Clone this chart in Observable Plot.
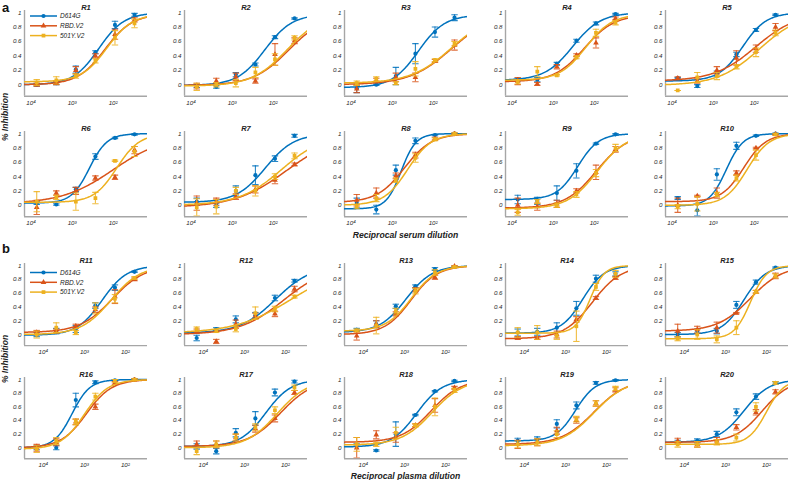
<!DOCTYPE html>
<html><head><meta charset="utf-8">
<script src="https://cdn.jsdelivr.net/npm/d3@7"></script>
<script src="https://cdn.jsdelivr.net/npm/@observablehq/plot@0.6"></script>
<style>
body{margin:0;background:#fff;}
#chart{position:relative;width:789px;height:480px;overflow:hidden;background:#fff;font-family:"Liberation Sans",Arial,sans-serif;}
#chart svg.sub{position:absolute;overflow:visible;}
#overlay{position:absolute;left:0;top:0;pointer-events:none;}
</style></head><body><div id="chart"></div>
<script>
// ---------------- data ----------------
const subjects = ["R1","R2","R3","R4","R5","R6","R7","R8","R9","R10","R11","R12","R13","R14","R15","R16","R17","R18","R19","R20"];
const variants = ["D614G","RBD.V2","501Y.V2"];
const colors = ["#0072BD","#D95319","#EDB120"];
const symbols = ["circle","triangle","square"];
const dilSerum = [7290, 2430, 810, 270, 90, 30];
const dilPlasma = [14580, 4860, 1620, 540, 180, 60];
const xTicks = [1e4, 1e3, 1e2];
const xTickLabels = ["10⁴","10³","10²"];
const yTicks = [0, 0.2, 0.4, 0.6, 0.8, 1];
const yTickLabels = ["0","0.2","0.4","0.6","0.8","1"];
const panelTitles = ["Reciprocal serum dilution","Reciprocal plasma dilution"];

// mean % inhibition (fraction) per subject, 6 dilutions (high -> low dilution)
const d614gMean = [
 [0.00,0.02,0.21,0.45,0.83,0.97],[-0.02,-0.03,0.14,0.28,0.66,0.92],[-0.05,0.00,0.12,0.43,0.73,0.93],[0.07,0.07,0.29,0.61,0.85,0.98],[0.09,-0.02,0.15,0.42,0.76,0.97],
 [0.03,0.01,0.22,0.68,0.94,0.99],[0.05,0.00,0.20,0.42,0.65,0.97],[0.03,-0.06,0.49,0.90,0.98,1.00],[0.08,0.06,0.17,0.48,0.86,0.99],[0.10,-0.07,0.43,0.83,0.97,1.00],
 [0.00,0.05,0.08,0.42,0.68,0.91],[-0.05,0.08,0.22,0.28,0.53,0.78],[0.07,0.15,0.41,0.70,0.95,0.98],[0.03,0.04,0.10,0.38,0.81,0.88],[0.00,0.05,0.05,0.43,0.76,0.97],
 [0.00,0.00,0.70,0.96,0.99,1.00],[0.02,-0.05,0.22,0.43,0.81,0.97],[0.04,-0.04,0.20,0.48,0.83,0.98],[0.10,0.12,0.35,0.62,0.95,0.99],[0.08,0.10,0.20,0.52,0.75,0.95]];
const d614gErr = [
 [0.02,0.02,0.05,0.02,0.05,0.02],[0.02,0.02,0.03,0.02,0.02,0.01],[0.06,0.01,0.12,0.14,0.07,0.04],[0.02,0.03,0.02,0.02,0.02,0.01],[0.01,0.02,0.04,0.03,0.02,0.01],
 [0.02,0.01,0.03,0.04,0.01,0.01],[0.05,0.03,0.07,0.13,0.04,0.02],[0.07,0.06,0.07,0.04,0.01,0.01],[0.06,0.05,0.10,0.10,0.01,0.01],[0.02,0.08,0.08,0.05,0.01,0.01],
 [0.03,0.04,0.05,0.04,0.04,0.01],[0.04,0.02,0.05,0.04,0.04,0.02],[0.02,0.05,0.03,0.02,0.02,0.01],[0.05,0.05,0.07,0.10,0.05,0.03],[0.03,0.03,0.04,0.05,0.03,0.01],
 [0.03,0.03,0.10,0.02,0.01,0.01],[0.04,0.04,0.06,0.10,0.05,0.02],[0.02,0.01,0.18,0.01,0.01,0.01],[0.04,0.04,0.06,0.05,0.02,0.01],[0.03,0.03,0.04,0.05,0.04,0.02]];
const rbdMean = [
 [0.00,0.02,0.20,0.40,0.70,0.90],[-0.02,0.05,0.11,0.05,0.42,0.61],[-0.06,0.06,0.10,0.10,0.33,0.55],[0.05,0.01,0.25,0.41,0.58,0.92],[0.09,0.05,0.20,0.37,0.50,0.80],
 [-0.03,0.17,0.20,0.38,0.39,0.77],[0.03,0.05,0.12,0.22,0.35,0.57],[0.07,0.17,0.41,0.70,0.93,1.00],[0.00,-0.02,0.02,0.20,0.46,0.78],[0.00,0.13,0.17,0.45,0.80,0.99],
 [0.03,0.05,0.12,0.36,0.55,0.80],[0.05,-0.10,0.15,0.27,0.30,0.66],[-0.02,0.15,0.30,0.65,0.83,0.99],[-0.05,-0.05,0.00,0.22,0.53,0.82],[0.05,0.07,0.10,0.31,0.62,0.85],
 [0.00,0.08,0.38,0.60,0.95,1.00],[0.05,0.05,0.15,0.28,0.43,0.81],[0.00,0.19,0.15,0.33,0.62,0.88],[0.05,0.08,0.25,0.40,0.65,0.85],[0.10,0.05,0.10,0.30,0.52,0.82]];
const rbdErr = [
 [0.02,0.02,0.05,0.03,0.07,0.03],[0.04,0.04,0.05,0.03,0.15,0.04],[0.05,0.03,0.06,0.06,0.02,0.07],[0.05,0.02,0.03,0.02,0.07,0.02],[0.02,0.03,0.05,0.10,0.05,0.05],
 [0.10,0.03,0.05,0.03,0.03,0.05],[0.10,0.05,0.04,0.05,0.05,0.02],[0.08,0.07,0.04,0.04,0.02,0.01],[0.10,0.05,0.05,0.03,0.10,0.04],[0.10,0.01,0.07,0.03,0.01,0.01],
 [0.03,0.03,0.03,0.04,0.10,0.02],[0.03,0.03,0.06,0.04,0.04,0.04],[0.06,0.05,0.03,0.03,0.03,0.01],[0.02,0.02,0.05,0.04,0.02,0.02],[0.10,0.05,0.08,0.01,0.02,0.04],
 [0.05,0.05,0.04,0.04,0.02,0.01],[0.05,0.05,0.05,0.05,0.05,0.03],[0.15,0.06,0.07,0.02,0.10,0.02],[0.06,0.05,0.05,0.04,0.04,0.03],[0.04,0.04,0.05,0.04,0.04,0.03]];
const y501Mean = [
 [0.03,0.06,0.12,0.33,0.65,0.85],[-0.03,0.00,0.02,0.17,0.35,0.65],[0.02,0.08,0.02,0.22,0.34,0.57],[0.04,0.18,0.13,0.38,0.72,0.86],[-0.08,0.10,0.12,0.25,0.45,0.72],
 [0.05,0.11,0.05,0.10,0.62,0.75],[-0.03,-0.02,0.20,0.20,0.40,0.69],[-0.02,0.10,0.35,0.66,0.92,1.00],[-0.10,0.05,0.00,0.15,0.45,0.80],[-0.02,0.02,0.15,0.38,0.70,0.99],
 [0.00,0.10,0.03,0.38,0.52,0.82],[0.08,0.05,0.08,0.31,0.37,0.55],[0.06,0.13,0.34,0.63,0.90,0.98],[0.03,0.03,-0.02,0.12,0.69,0.88],[-0.06,0.00,-0.07,0.10,0.62,0.85],
 [-0.02,0.10,0.38,0.75,0.98,1.00],[-0.05,0.05,0.15,0.30,0.55,0.88],[0.05,0.05,0.22,0.33,0.60,0.84],[0.05,0.08,0.20,0.42,0.65,0.87],[0.05,0.05,0.08,0.15,0.60,0.95]];
const y501Err = [
 [0.04,0.05,0.03,0.03,0.10,0.06],[0.05,0.03,0.05,0.07,0.08,0.03],[0.03,0.03,0.02,0.10,0.02,0.03],[0.03,0.07,0.01,0.02,0.05,0.03],[0.00,0.07,0.05,0.03,0.06,0.04],
 [0.14,0.03,0.12,0.08,0.01,0.07],[0.12,0.10,0.05,0.07,0.04,0.04],[0.03,0.05,0.03,0.06,0.02,0.01],[0.04,0.03,0.03,0.04,0.05,0.05],[0.03,0.10,0.03,0.04,0.07,0.01],
 [0.05,0.07,0.03,0.08,0.06,0.02],[0.03,0.02,0.04,0.09,0.04,0.02],[0.02,0.12,0.04,0.04,0.04,0.01],[0.07,0.10,0.05,0.22,0.05,0.05],[0.03,0.07,0.05,0.10,0.02,0.03],
 [0.05,0.05,0.04,0.05,0.02,0.01],[0.05,0.05,0.05,0.05,0.05,0.04],[0.10,0.03,0.08,0.02,0.13,0.03],[0.05,0.05,0.05,0.04,0.04,0.03],[0.04,0.04,0.04,0.05,0.06,0.02]];

// fitted 4-parameter logistic curves: [bottom, top, log10 mid-dilution, hill slope]
const d614gFit = [
 [0.00,1.00,2.35,1.40],[-0.01,0.98,2.20,1.30],[-0.04,0.97,2.36,1.35],[0.06,1.00,2.52,1.27],[0.05,1.00,2.28,1.50],
 [0.03,1.00,2.58,2.00],[0.04,1.00,2.19,1.23],[-0.05,1.00,2.78,2.40],[0.08,1.00,2.40,1.70],[-0.01,1.00,2.68,2.10],
 [-0.01,1.00,2.57,1.42],[0.02,1.00,2.24,1.00],[0.03,1.00,2.96,1.35],[0.02,1.00,2.58,1.66],[0.00,1.00,2.55,1.62],
 [0.00,1.00,3.30,2.00],[0.02,1.00,2.48,1.40],[0.01,1.00,2.70,1.40],[0.10,1.00,2.75,1.80],[0.08,1.00,2.55,1.40]];
const rbdFit = [
 [0.00,0.98,2.20,1.30],[-0.01,0.97,1.62,1.00],[0.00,1.00,1.55,0.85],[0.04,0.97,2.24,1.20],[0.05,1.00,1.96,0.86],
 [0.02,0.97,2.00,0.70],[-0.03,1.00,1.67,0.69],[0.04,1.00,2.70,1.30],[-0.04,1.00,1.94,1.14],[0.05,1.00,2.25,1.60],
 [0.03,1.00,2.32,1.10],[0.00,1.00,2.04,0.81],[0.00,1.00,2.84,1.35],[-0.06,1.00,2.34,1.23],[0.05,1.00,2.39,1.10],
 [0.00,1.00,2.95,1.40],[0.02,1.00,2.12,1.10],[0.08,1.00,2.35,1.20],[0.05,1.00,2.30,1.10],[0.08,1.00,2.10,1.30]];
const y501Fit = [
 [0.04,0.98,2.15,1.40],[-0.02,1.00,1.65,1.00],[0.02,1.00,1.55,0.88],[0.06,0.98,2.20,1.35],[-0.01,1.00,1.87,0.86],
 [0.04,1.00,1.91,1.56],[0.00,1.00,1.79,0.84],[0.00,1.00,2.62,1.50],[-0.05,1.00,1.92,1.20],[0.00,1.00,2.17,1.60],
 [0.00,1.00,2.35,1.20],[0.02,1.00,1.86,0.64],[0.05,1.00,2.83,1.40],[0.02,1.00,2.40,2.48],[-0.06,1.00,2.39,2.20],
 [-0.02,1.00,3.00,1.50],[0.00,1.00,2.20,1.15],[0.04,1.00,2.32,1.15],[0.03,1.00,2.30,1.10],[0.05,1.00,2.00,2.00]];

// ---------------- layout ----------------
const means = [d614gMean, rbdMean, y501Mean];
const errs = [d614gErr, rbdErr, y501Err];
const fits = [d614gFit, rbdFit, y501Fit];
const colLeft = [23.5, 184, 344, 504.5, 664.5];
const rows = [{top:10.1,bottom:95.8},{top:130.6,bottom:215.8},{top:262.9,bottom:345},{top:377,bottom:458.2}];
const PW = 123, ML = 24, MR = 6, MT = 14, MB = 16;
const yDomain = [-0.16, 1.03];
const xDomains = [[10**4.161, 10**1.161],[10**4.461, 10**1.461]];
const capSym = {draw(ctx){ ctx.moveTo(-3.2,0); ctx.lineTo(3.2,0); }};
const logistic = (f, lx) => f[0] + (f[1]-f[0])/(1 + Math.pow(10, f[3]*(lx - f[2])));

const chart = document.getElementById("chart");
subjects.forEach((name, i) => {
  const panel = i < 10 ? 0 : 1;
  const row = Math.floor(i/5), col = i % 5;
  const g = rows[row];
  const h = g.bottom - g.top;
  const dil = panel === 0 ? dilSerum : dilPlasma;
  const xd = xDomains[panel];
  const l0 = Math.log10(xd[0]), l1 = Math.log10(xd[1]);
  const marks = [
    Plot.ruleX([xd[0]], {stroke:"#a6a6a6", strokeWidth:1.4}),
    Plot.ruleY([yDomain[0]], {stroke:"#a6a6a6", strokeWidth:1.4}),
    Plot.axisY({ticks:yTicks, tickFormat:(d)=>yTickLabels[yTicks.indexOf(d)], tickSize:0, tickPadding:3, label:null, fontSize:6.2, fontStyle:"italic", fill:"#262626"}),
    Plot.axisX({ticks:xTicks, tickFormat:(d)=>xTickLabels[xTicks.indexOf(d)], tickSize:0, tickPadding:4, label:null, fontSize:6.2, fontStyle:"italic", fill:"#262626"}),
    Plot.text([name], {frameAnchor:"top", dy:-6, fontSize:7.5, fontWeight:"bold", fontStyle:"italic", fill:"#222"})
  ];
  variants.forEach((v, s) => {
    const pts = dil.map((d, k) => ({x:d, y:means[s][i][k], lo:means[s][i][k]-errs[s][i][k], hi:means[s][i][k]+errs[s][i][k]}));
    const curve = d3.range(121).map(k => { const lx = l0 + (l1-l0)*k/120; return {x:10**lx, y:logistic(fits[s][i], lx)}; });
    marks.push(
      Plot.ruleX(pts, {x:"x", y1:"lo", y2:"hi", stroke:colors[s], strokeWidth:1.1, strokeOpacity:0.85, clip:true}),
      Plot.dot(pts, {x:"x", y:"hi", symbol:capSym, stroke:colors[s], strokeWidth:1.1, strokeOpacity:0.85, fill:"none", clip:true}),
      Plot.dot(pts, {x:"x", y:"lo", symbol:capSym, stroke:colors[s], strokeWidth:1.1, strokeOpacity:0.85, fill:"none", clip:true}),
      Plot.dot(pts, {x:"x", y:"y", symbol:symbols[s], r:2.1, fill:colors[s], stroke:"none", clip:true}),
      Plot.line(curve, {x:"x", y:"y", stroke:colors[s], strokeWidth:1.5, clip:true})
    );
  });
  const svg = Plot.plot({
    width: ML+PW+MR, height: MT+h+MB,
    marginLeft: ML, marginRight: MR, marginTop: MT, marginBottom: MB,
    x: {type:"log", domain: xd},
    y: {domain: yDomain},
    style: {fontFamily:"'Liberation Sans', Arial, sans-serif", background:"transparent", overflow:"visible"},
    marks
  });
  svg.classList.add("sub");
  svg.style.left = (colLeft[col] - ML) + "px";
  svg.style.top = (g.top - MT) + "px";
  chart.appendChild(svg);
});

// ---------------- overlay: panel letters, axis titles, legends ----------------
const ov = d3.select(chart).append("svg").attr("id","overlay").attr("width",789).attr("height",480)
  .style("font-family","'Liberation Sans', Arial, sans-serif");
[["a",8],["b",249]].forEach(([t,y]) => ov.append("text").attr("x",2).attr("y",y+4).attr("font-size",13).attr("font-weight","bold").attr("fill","#111").text(t));
[[117],[359]].forEach(([cy]) => ov.append("text").attr("transform",`translate(8,${cy}) rotate(-90)`).attr("text-anchor","middle")
  .attr("font-size",8.5).attr("font-weight","bold").attr("font-style","italic").attr("fill","#222").text("% Inhibition"));
[[238],[478.5]].forEach(([by], p) => ov.append("text").attr("x",405.5).attr("y",by).attr("text-anchor","middle")
  .attr("font-size",8.6).attr("font-weight","bold").attr("font-style","italic").attr("fill","#222").text(panelTitles[p]));
[[16],[272.5]].forEach(([y0]) => {
  variants.forEach((v, s) => {
    const y = y0 + s*9.8;
    ov.append("line").attr("x1",30).attr("x2",57).attr("y1",y).attr("y2",y).attr("stroke",colors[s]).attr("stroke-width",1.5);
    ov.append("path").attr("transform",`translate(43.5,${y})`).attr("d", d3.symbol(s===0?d3.symbolCircle:s===1?d3.symbolTriangle:d3.symbolSquare, 14)()).attr("fill",colors[s]);
    ov.append("text").attr("x",60).attr("y",y+2.2).attr("font-size",6.5).attr("font-style","italic").attr("fill","#222").text(v);
  });
});
</script></body></html>
